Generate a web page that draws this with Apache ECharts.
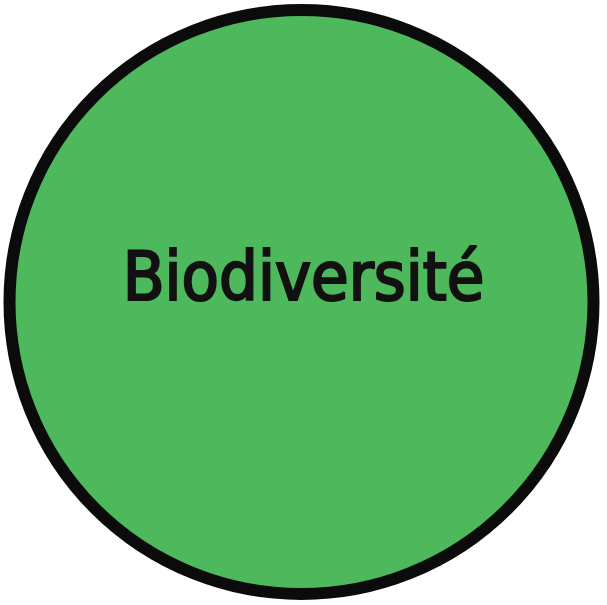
<!DOCTYPE html>
<html lang="fr">
<head>
  <meta charset="UTF-8">
  <title>Biodiversité</title>
  <style>
    body { margin: 0; padding: 0; background: #fff; }
    #chart { width: 607px; height: 605px; }
  </style>
</head>
<body>
  <div id="chart"></div>
  <script src="https://cdn.jsdelivr.net/npm/echarts@6/dist/echarts.min.js"></script>
  <script>
    var names = ['Biodiversité'];
    var values = [1];

    var chart = echarts.init(document.getElementById('chart'));

    var data = names.map(function (n, i) {
      return { name: n, value: values[i] };
    });

    chart.setOption({
      animation: false,
      series: [{
        type: 'pie',
        silent: true,
        center: [301.5, 302],
        radius: [0, 292],
        itemStyle: {
          color: '#4eb85c',
          borderColor: '#0b0b0b',
          borderWidth: 12
        },
        label: {
          show: true,
          position: 'center',
          formatter: '{b}',
          color: '#111',
          fontSize: 68,
          fontWeight: 'normal',
          fontFamily: '"DejaVu Sans Condensed", sans-serif',
          textBorderColor: '#111',
          textBorderWidth: 2.2
        },
        labelLayout: { dx: 2, dy: -20 },
        labelLine: { show: false },
        data: data
      }]
    });
  </script>
</body>
</html>
